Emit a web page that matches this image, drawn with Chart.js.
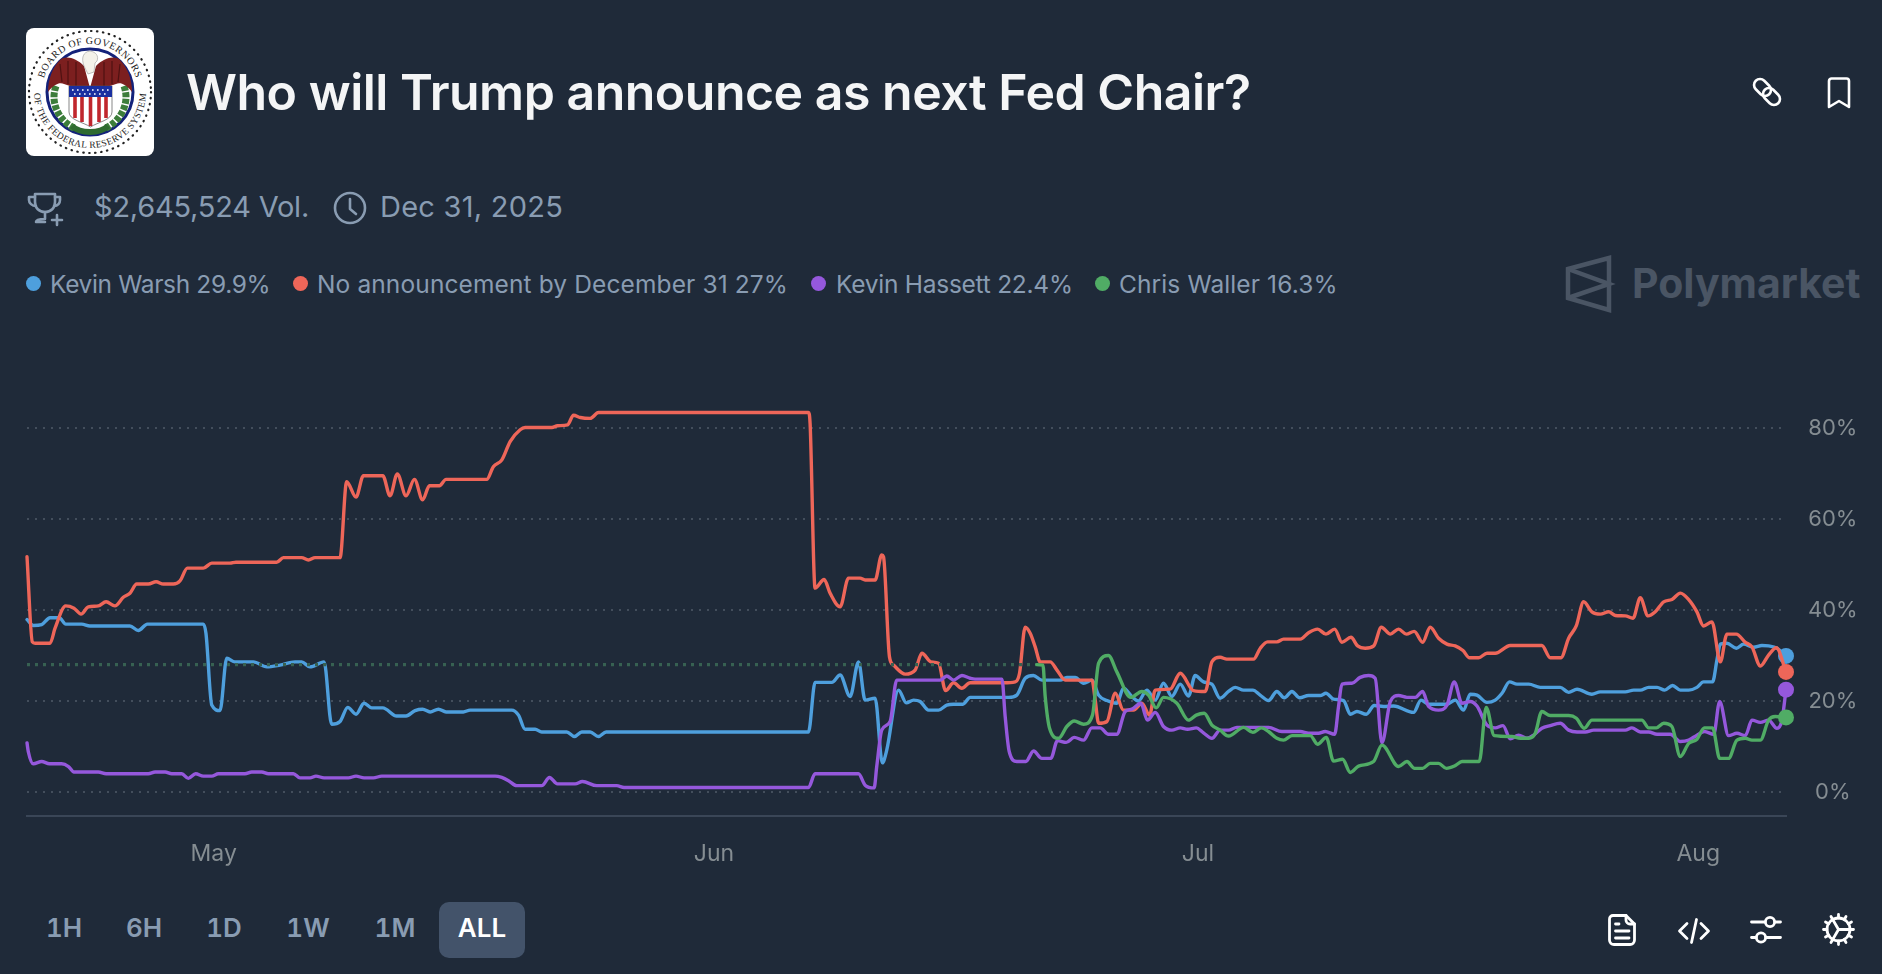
<!DOCTYPE html>
<html>
<head>
<meta charset="utf-8">
<title>Who will Trump announce as next Fed Chair?</title>
<script src="https://cdn.jsdelivr.net/npm/chart.js@4/dist/chart.umd.js"></script>
<style>
html,body{margin:0;padding:0;background:#1f2a39;width:1882px;height:974px;overflow:hidden;font-family:Inter,sans-serif}
.a{position:absolute;white-space:nowrap}
#title{left:186px;top:62px;font-size:50px;line-height:60px;font-weight:600;color:#f4f5f6;letter-spacing:-0.5px}
.meta{top:190px;font-size:29px;line-height:34px;color:#899cb2;font-weight:400}
.leg{top:269px;font-size:24.5px;line-height:30px;color:#899cb2}
.dot{top:276px;width:15px;height:15px;border-radius:50%}
.btn{top:913px;font-size:26px;line-height:30px;font-weight:600;color:#899cb2;transform:translateX(-50%);font-feature-settings:"tnum"}
#all{left:439px;top:902px;width:86px;height:56px;border-radius:10px;background:#43536a}
#wm{left:1632px;top:258px;font-size:41px;line-height:50px;font-weight:700;color:#4a5564}
canvas{position:absolute;left:0;top:345px}
svg{position:absolute;overflow:visible}
</style>
</head>
<body>

<!-- fed seal -->
<svg style="left:26px;top:28px" width="128" height="128" viewBox="0 0 128 128">
  <rect width="128" height="128" rx="8" fill="#fff"/>
  <circle cx="64" cy="64" r="61" fill="none" stroke="#222" stroke-width="2.2" stroke-dasharray="0.5 5.5" stroke-linecap="round"/>
  <defs>
    <path id="arcTop" d="M 16 64 A 48 48 0 0 1 112 64"/>
    <path id="arcBot" d="M 8 64 A 56 56 0 0 0 120 64"/>
  </defs>
  <text font-family="Liberation Serif" font-size="10" letter-spacing=".5" fill="#222"><textPath href="#arcTop" startOffset="50%" text-anchor="middle">BOARD OF GOVERNORS</textPath></text>
  <text font-family="Liberation Serif" font-size="9.5" letter-spacing=".4" fill="#222"><textPath href="#arcBot" startOffset="50%" text-anchor="middle">OF THE FEDERAL RESERVE SYSTEM</textPath></text>
  <circle cx="64" cy="64" r="43" fill="#fff" stroke="#14227a" stroke-width="3"/>
  <path d="M30 58 C24 74 32 92 48 100" fill="none" stroke="#3c7d3a" stroke-width="7" stroke-dasharray="5 1.5"/>
  <path d="M98 58 C104 74 96 92 80 100" fill="none" stroke="#3c7d3a" stroke-width="7" stroke-dasharray="5 1.5"/>
  <path d="M46 98 C54 106 74 106 82 98" fill="none" stroke="#2f6b30" stroke-width="6"/>
  <path d="M58 38 C50 30 40 27 34 32 C26 40 22 52 22 64 C28 56 34 54 38 56 L44 58 L64 60Z" fill="#7c1f1f"/>
  <path d="M70 38 C78 30 88 27 94 32 C102 40 106 52 106 64 C100 56 94 54 90 56 L84 58 L64 60Z" fill="#7c1f1f"/>
  <path d="M34 36L36 54M42 33L42 56M50 34L50 58M94 36L92 54M86 33L86 56M78 34L78 58" stroke="#4f1212" stroke-width="1.2"/>
  <path d="M58 38 C55 30 57 24 64 23 C70 24 73 28 71 33 L69 35 L68 44 L62 46Z" fill="#f4f2ea" stroke="#888" stroke-width=".5"/>
  <path d="M43 58 H86 V84 C86 92 72 94 64.5 99 C57 94 43 92 43 84Z" fill="#fff" stroke="#555" stroke-width=".7"/>
  <rect x="43" y="58" width="43" height="11" fill="#1a2fa0"/>
  <path d="M46 62H84M48 66H82" stroke="#fff" stroke-width="1.6" stroke-dasharray="1.6 3.4"/>
  <path d="M49 69V90M56 69V94M64.5 69V98M73 69V94M80 69V90" stroke="#c0272d" stroke-width="3.6"/>
</svg>

<div class="a" id="title">Who will Trump announce as next Fed Chair?</div>

<!-- link + bookmark -->
<svg style="left:1752px;top:77px" width="30" height="30" viewBox="0 0 30 30" fill="none" stroke="#fff" stroke-width="2.6">
  <rect x="1" y="4.5" width="19" height="12" rx="6" transform="rotate(45 10.5 10.5)"/>
  <rect x="10" y="13.5" width="19" height="12" rx="6" transform="rotate(45 19.5 19.5)"/>
</svg>
<svg style="left:1827px;top:77px" width="24" height="32" viewBox="0 0 24 32" fill="none" stroke="#fff" stroke-width="2.6" stroke-linejoin="round">
  <path d="M2 30V4a2.5 2.5 0 0 1 2.5-2.5h15A2.5 2.5 0 0 1 22 4v26l-10-6z"/>
</svg>

<!-- volume + end date -->
<svg style="left:27px;top:191px" width="36" height="36" viewBox="0 0 36 36" fill="none" stroke="#899cb2" stroke-width="2.6" stroke-linecap="round" stroke-linejoin="round">
  <path d="M8 3H28V11C28 17 24 21 18 21C12 21 8 17 8 11Z"/>
  <path d="M8 6H2V9C2 12 5 15 9 15M28 6H33V9C33 12 31 15 27 15"/>
  <path d="M18 21V28M9 31C9 29 12 28 18 28M18 31H9"/>
  <path d="M30 24V34M25 29H35"/>
</svg>
<div class="a meta" style="left:94px;letter-spacing:-0.23px">$2,645,524 Vol.</div>
<svg style="left:333px;top:191px" width="34" height="34" viewBox="0 0 34 34" fill="none" stroke="#899cb2" stroke-width="2.6" stroke-linecap="round" stroke-linejoin="round">
  <circle cx="17" cy="17" r="15"/><path d="M17 8V18L23 23"/>
</svg>
<div class="a meta" style="left:380px;letter-spacing:0.25px">Dec 31, 2025</div>

<!-- legend -->
<div class="a dot" style="left:26px;background:#4e9fdd"></div>
<div class="a leg" style="left:50px;letter-spacing:-0.35px">Kevin Warsh 29.9%</div>
<div class="a dot" style="left:293px;background:#ee6659"></div>
<div class="a leg" style="left:317px;letter-spacing:0.12px">No announcement by December 31 27%</div>
<div class="a dot" style="left:811px;background:#9558dc"></div>
<div class="a leg" style="left:836px;letter-spacing:-0.26px">Kevin Hassett 22.4%</div>
<div class="a dot" style="left:1095px;background:#50ac65"></div>
<div class="a leg" style="left:1119px;letter-spacing:0.11px">Chris Waller 16.3%</div>

<!-- watermark -->
<svg style="left:1566px;top:256px" width="46" height="56" viewBox="0 0 46 56" fill="none" stroke="#4a5564" stroke-width="4.5" stroke-linejoin="miter">
  <path d="M2 13L43 2V54L2 42Z"/><path d="M2 13L43 28L2 42"/>
</svg>
<div class="a" id="wm">Polymarket</div>

<canvas id="chart" width="1882" height="535"></canvas>

<!-- range buttons -->
<div class="a" id="all"></div>
<div class="a btn" style="left:64px">1H</div>
<div class="a btn" style="left:144px">6H</div>
<div class="a btn" style="left:224px">1D</div>
<div class="a btn" style="left:308px">1W</div>
<div class="a btn" style="left:395px">1M</div>
<div class="a btn" style="left:482px;color:#fff">ALL</div>

<!-- bottom icons -->
<svg style="left:1608px;top:914px" width="28" height="32" viewBox="0 0 28 32" fill="none" stroke="#fff" stroke-width="2.8" stroke-linecap="round" stroke-linejoin="round">
  <path d="M5 1.5H18L26.5 10V26A4.5 4.5 0 0 1 22 30.5H6A4.5 4.5 0 0 1 1.5 26V5A3.5 3.5 0 0 1 5 1.5Z"/>
  <path d="M18 1.5V6A4 4 0 0 0 22 10H26.5M7.5 10H11M7.5 17H21M7.5 24H21"/>
</svg>
<svg style="left:1678px;top:918px" width="32" height="26" viewBox="0 0 32 26" fill="none" stroke="#fff" stroke-width="2.8" stroke-linecap="round" stroke-linejoin="round">
  <path d="M9 5.5L1.5 13L9 20.5M23 5.5L30.5 13L23 20.5M18.5 1.5L13.5 24.5"/>
</svg>
<svg style="left:1750px;top:916px" width="32" height="28" viewBox="0 0 32 28" fill="none" stroke="#fff" stroke-width="2.8" stroke-linecap="round">
  <path d="M1.5 6H15M25 6H30.5M1.5 21.5H6M16 21.5H30.5"/>
  <circle cx="20" cy="6" r="4.6"/><circle cx="11" cy="21.5" r="4.6"/>
</svg>
<svg style="left:1822px;top:913px" width="33" height="33" viewBox="0 0 33 33" fill="none" stroke="#fff" stroke-width="2.8" stroke-linecap="round">
  <circle cx="16.5" cy="16.5" r="11.5"/>
  <path d="M16.5 16.5L28 16.5M16.5 16.5L10.7 6.5M16.5 16.5L10.7 26.5"/>
  <path d="M16.5 1.5V5M16.5 28V31.5M3.5 9L6.5 10.7M26.5 22.3L29.5 24M3.5 24L6.5 22.3M26.5 10.7L29.5 9M9 3.5L10.7 6.5M22.3 26.5L24 29.5M24 3.5L22.3 6.5M10.7 26.5L9 29.5M1.5 16.5H5M28 16.5H31.5"/>
</svg>

<script>
// x values are days counted from May 1, y values are percent

var warshDays = [-11.57,-11.18,-10.66,-10.14,-9.57,-9.17,-8.18,-7.67,-5.19,-4.67,-4.11,-0.64,-0.48,-0.12,0.39,0.81,1.32,2.46,3.29,4.11,5.04,5.45,5.97,6.84,7.31,7.83,8.31,8.82,9.32,9.79,10.48,11.34,11.92,12.48,12.95,13.41,13.93,14.4,15.47,15.89,18.47,18.89,19.3,19.92,20.33,21.88,22.36,22.81,23.33,23.84,24.32,36.86,37.27,38.31,38.82,39.44,39.96,40.37,40.99,41.44,41.71,42.44,42.92,43.37,43.78,44.3,44.92,45.43,45.85,46.43,46.88,49.26,49.77,50.29,50.8,51.32,52.46,52.87,53.39,53.91,54.43,54.84,55.36,55.97,56.38,56.9,57.31,57.83,58.35,58.86,59.38,59.9,60.41,60.83,61.34,61.86,62.37,62.89,63.31,63.83,64.4,64.85,65.37,65.89,66.35,66.82,67.3,67.85,68.57,68.93,69.4,70.02,70.44,70.85,71.43,71.92,72.5,73.12,74.36,74.82,75.29,76.43,76.94,77.46,77.87,78.29,78.91,79.42,79.84,80.31,80.77,81.5,82.21,83.45,83.97,84.49,85.41,85.93,87.48,88,88.41,88.93,89.45,89.92,90.41,90.89,91.41,91.92,92.33,92.89,93.16,93.37,93.78,94.36,94.81,95.43,95.95,96.36,96.88,97.44];
var warshPct = [37.9,36.6,36.8,38.3,38.3,36.9,36.9,36.5,36.5,35.5,36.9,36.9,34.9,19.1,17.9,29.4,28.6,28.6,27.5,27.9,28.6,28.6,27.5,28.6,14.9,15.5,18.6,17.1,19.5,18.5,18.5,16.7,16.7,17.9,18.2,17.6,18.2,17.6,17.6,18,18,16.9,13.8,13.8,13.2,13.2,12.2,13.2,13.2,12.2,13.2,13.2,24.1,24.1,25.7,21,28.6,20.2,20.6,6.4,9.2,22.4,19.6,20.2,19.9,18,18,19.1,19.3,19.3,20.8,20.8,21.3,25,25.6,24.6,24.6,25.2,25.2,23.9,24.6,21.3,20.1,19.5,22.8,21,20,22.4,20.2,23.9,21,23.7,21.1,25.6,24.2,23.7,20.6,22.1,23,22.4,22.4,21.3,20.1,22.1,20.7,22.1,20.7,21.2,21.2,21.7,20.4,20.1,17.1,17.7,17.1,19,18.8,18.9,17.5,20.2,19.3,19.3,20.2,18,21.5,21.3,19.7,20.2,21.7,24.2,23.7,23.7,23,23,21.9,22.6,21.5,22,22,22.4,22.4,23,23,22.4,23.4,22.4,22.4,23,24.2,24.2,29,32.5,32.7,31.6,32.5,31.8,32.2,32.1,31.6,29.9];

var noneDays = [-11.57,-11.24,-11.07,-10.14,-9.83,-9.17,-8.66,-8.22,-7.77,-7.15,-6.67,-6.12,-5.6,-5.19,-4.77,-4.05,-3.57,-3.12,-2.5,-2.09,-1.63,-0.64,-0.12,1.01,1.38,3.9,4.32,5.45,5.87,6.28,7.83,8.24,8.82,9.28,10.48,10.93,11.38,11.92,12.44,12.95,13.37,13.99,14.4,16.92,17.33,17.86,18.37,18.99,19.3,20.96,21.31,21.93,22.3,22.72,23.33,23.85,36.86,36.96,37.27,37.83,38.2,38.82,39.34,40.06,40.37,40.99,41.4,41.51,41.88,42.13,42.85,43.47,43.89,44.45,44.92,45.36,45.85,46.36,46.88,48.94,49.67,49.94,50.29,50.6,50.91,51.22,51.84,52.26,52.77,54.43,54.63,54.84,55.36,55.87,56.38,57.01,57.52,58,58.35,59.27,59.9,60.72,61.45,61.86,62.37,62.79,64.44,64.86,65.31,65.89,66.3,67.34,67.85,68.41,68.93,69.47,69.92,70.48,70.89,71.36,71.89,72.36,72.92,73.43,73.91,74.4,74.92,75.39,75.91,76.43,76.94,77.42,77.83,78.39,78.91,79.42,80.35,82.31,82.83,83.49,83.97,84.44,84.9,85.41,85.93,86.45,86.86,87.48,87.96,88.41,88.89,89.34,89.86,90.37,90.89,91.41,91.92,92.33,92.85,93.37,93.78,94.36,94.92,95.33,95.85,96.36,96.84,97.44];
var nonePct = [51.7,33,32.7,32.7,36,40.9,40.4,39.1,40.7,40.9,41.8,40.9,42.8,43.7,45.7,45.7,46.2,45.7,45.7,46.4,49.2,49.2,50.3,50.3,50.5,50.5,51.5,51.5,51,51.5,51.5,68.2,64.8,69.5,69.5,65.1,69.9,65.1,68.7,64.2,67.3,67.3,68.7,68.7,71.5,73,77,79.6,80.1,80.1,80.5,80.7,82.8,82.3,82.1,83.4,83.4,81,44.8,46.7,43.7,40.7,47,47,46.6,46.6,52.1,51.7,29.7,27.9,25.9,26.8,30.5,28.6,28.3,22.3,24,22.8,24,24,24.2,26.1,36.2,34.9,31.9,28.6,28.6,26.8,24.6,24.6,20.2,15.1,15.5,21.7,18,18,19.5,16.9,22.4,22.6,26.1,22.3,22.1,28.6,29.6,29.2,29.2,31.6,33,33,33.6,33.6,35,35.8,34.7,35.8,32.9,34,32.1,31.6,32.1,36.2,34.7,35.8,34.7,35.3,32.9,36.2,33.8,32.5,32.1,31.1,29.5,29.5,30.5,30.5,32.2,32.2,29.5,29.5,33.8,36.5,41.8,39.6,39.1,39.6,38.8,38.7,38.2,42.7,38.7,39.6,41.8,42.3,43.7,42.3,39.6,36.5,37.4,28.6,34.7,34.7,32.9,31.9,27.7,30.1,31.7,26.4];

var hassettDays = [-11.57,-11.49,-11.18,-10.66,-10.18,-9.42,-9,-8.66,-7.15,-6.67,-4.05,-3.63,-3.01,-2.6,-1.98,-1.57,-1.12,-0.64,-0.12,0.29,1.94,2.36,2.98,3.39,4.94,5.35,5.97,6.34,6.84,8.35,8.82,9.32,9.9,10.41,17.44,17.85,18.27,18.78,20.33,20.81,21.3,22.4,22.85,23.74,24.98,25.43,36.86,37.27,39.96,40.37,40.93,41.09,41.4,41.92,42.33,45.02,45.43,45.85,46.37,46.88,47.19,48.85,49.05,49.3,49.77,50.33,50.81,51.32,51.88,52.29,52.83,53.33,53.91,54.42,54.94,55.45,55.97,56.49,56.9,57.46,57.87,58.35,58.86,59.38,59.9,60.35,60.89,61.34,61.86,62.37,62.89,63.41,65.37,66.2,67.34,67.85,68.47,68.88,69.47,69.71,69.92,70.54,71.05,71.57,71.98,72.4,72.92,73.43,73.95,74.47,74.92,75.29,75.91,76.43,76.88,77.36,77.87,78.29,78.91,79.42,79.9,80.35,80.87,81.39,81.8,82.31,82.83,83.45,83.97,84.49,85,85.52,87.48,87.89,88.41,88.93,89.45,90.27,90.89,91.41,91.92,92.38,92.96,93.33,93.88,94.4,94.92,95.33,95.85,96.36,96.88,97.19,97.44];
var hassettPct = [10.8,8.9,6.2,6.7,6.2,6.2,5.6,4.4,4.4,4,4,4.4,4.4,4,4,3,4,3.5,3.5,4,4,4.4,4.4,4,4,3.1,3.1,3.5,3.1,3.1,3.5,3.1,3.1,3.5,3.5,3.2,2.5,1.4,1.4,3.2,1.8,1.8,2.3,1.4,1.4,1,1,4,4,1.5,0.9,5.6,13.6,15.5,24.6,24.6,25.5,24.6,25.6,25,24.8,24.8,16.6,8.9,6.7,6.7,9,7.4,7.4,11.3,10.9,12,11.4,14.1,14.1,12.7,12.7,17.7,18.2,19.5,15.8,17.5,14.4,13.6,14.1,13.8,14.1,13,11.8,13.6,13.6,14.2,14.2,13.3,13.3,12.9,12.9,13.3,12.7,18.8,23.7,23.9,25.2,25.6,25,10.8,19.9,21.2,20.8,20.8,22.1,18.8,18,19.1,24.2,19.5,19.9,18.9,14.7,14.1,14.6,11.7,12.5,11.8,12.5,14,14.6,15.1,13.6,13.2,13.2,13.6,13.6,14.1,13.2,13.2,12.7,12.7,11.1,11.4,12.5,13.3,12.7,19.9,12.4,12.9,12.4,15.8,15.3,15.8,14,15.8,22.5];

var wallerDays = [-11.57,51.01,51.39,51.53,51.8,52.36,52.87,53.33,53.91,54.46,54.84,55.45,55.97,56.84,57.52,57.93,58.41,58.86,59.69,60.41,60.89,61.38,61.86,62.37,62.89,63.83,64.4,64.92,65.37,65.89,66.3,66.82,67.96,68.41,68.95,69.4,69.96,70.44,70.95,71.88,72.4,73.43,73.95,74.42,74.92,75.39,75.91,76.39,76.94,77.36,78.43,78.86,79.36,80.46,80.97,81.5,81.9,82.31,82.83,83.97,84.45,84.94,85.41,88.51,88.93,89.41,89.86,90.37,90.89,91.41,91.92,92.38,92.89,93.33,93.88,94.4,94.92,95.33,95.85,96.36,96.78,97.44];
var wallerPct = [28,28,27.9,21,14,11.8,14.4,15.6,14.9,16.9,28.3,30,26.4,20.8,22.1,21.3,18.5,20.8,19.5,15.8,16.9,17.3,14.7,13.6,12.3,14.2,13.1,14.1,13.3,11.8,11.4,12.4,12.4,10.5,12,6.8,7.2,4.3,5.7,6.7,10.3,5.6,6.7,5.2,5.2,6.3,6.3,5.2,5.8,6.7,6.7,18.6,12.4,12.2,11.8,11.8,12.9,17.7,16.8,16.8,16.2,14,15.8,15.8,14.1,14.1,15.1,14.4,7.8,10.7,11.6,14.1,14.1,7.4,7.4,11.4,11.8,11.4,11.4,15.8,16.6,16.4];

var monthDays = [0,31,61,92];
var monthNames = ["May","Jun","Jul","Aug"];
var pctTicks = [0,20,40,60,80];

function toPoints(days, vals){
    var pts = [];
    for (var i = 0; i < days.length; i++) {
        pts.push({x: days[i], y: vals[i]});
    }
    return pts;
}

function makeSeries(name, days, vals, color, order){
    return {
        label: name,
        data: toPoints(days, vals),
        borderColor: color,
        backgroundColor: color,
        borderWidth: 3.4,
        borderCapStyle: "round",
        borderJoinStyle: "round",
        cubicInterpolationMode: "monotone",
        pointBorderWidth: 0,
        pointBackgroundColor: color,
        // only the latest value gets a dot
        pointRadius: function(ctx){ return ctx.dataIndex == days.length - 1 ? 8 : 0; },
        order: order,
        clip: false
    };
}

var wallerSeries = makeSeries("Chris Waller", wallerDays, wallerPct, "#50ac65", 1);
// before trading started the line is a flat dashed placeholder
wallerSeries.segment = {
    borderColor: function(ctx){ return ctx.p1.parsed.x <= wallerDays[1] ? "#376152" : undefined; },
    borderDash: function(ctx){ return ctx.p1.parsed.x <= wallerDays[1] ? [3,5] : undefined; },
    borderCapStyle: function(ctx){ return ctx.p1.parsed.x <= wallerDays[1] ? "butt" : undefined; }
};

new Chart(document.getElementById("chart"), {
    type: "line",
    data: {
        datasets: [
            makeSeries("Kevin Warsh", warshDays, warshPct, "#4e9fdd", 4),
            makeSeries("No announcement by December 31", noneDays, nonePct, "#ee6659", 3),
            makeSeries("Kevin Hassett", hassettDays, hassettPct, "#9558dc", 2),
            wallerSeries
        ]
    },
    options: {
        responsive: false,
        animation: false,
        events: [],
        layout: {padding: {left: 27, right: 0, top: 0, bottom: 0}},
        plugins: {legend: {display: false}, tooltip: {enabled: false}},
        scales: {
            x: {
                type: "linear",
                min: -11.57,
                max: 97.44,
                afterFit: function(s){ s.height = 64; },
                afterBuildTicks: function(s){ s.ticks = monthDays.map(function(d){ return {value: d}; }); },
                grid: {display: false},
                border: {display: true, color: "#3a4657", width: 2},
                ticks: {
                    autoSkip: false,
                    maxRotation: 0,
                    padding: 16,
                    color: "#858d92",
                    font: {family: "Inter", size: 23},
                    callback: function(v){ return monthNames[monthDays.indexOf(v)]; }
                }
            },
            y: {
                type: "linear",
                position: "right",
                min: -5.27,
                max: 90.5,
                afterFit: function(s){ s.width = 96; },
                afterBuildTicks: function(s){ s.ticks = pctTicks.map(function(v){ return {value: v}; }); },
                grid: {color: "#434e5c", lineWidth: 2, drawTicks: false},
                border: {display: false, dash: [2,6]},
                ticks: {
                    padding: 22,
                    crossAlign: "center",
                    color: "#858d92",
                    font: {family: "Inter", size: 22},
                    callback: function(v){ return v + "%"; }
                }
            }
        }
    }
});
</script>
</body>
</html>
